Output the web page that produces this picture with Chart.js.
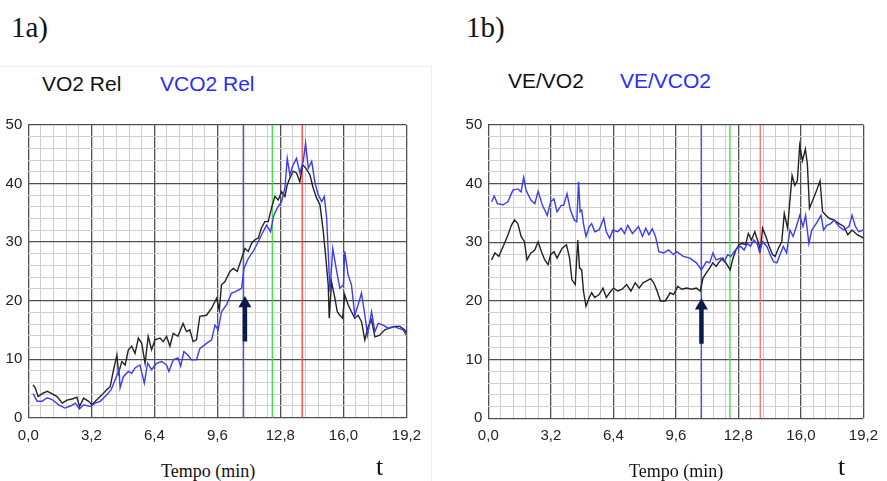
<!DOCTYPE html>
<html>
<head>
<meta charset="utf-8">
<script src="https://cdn.jsdelivr.net/npm/chart.js@4.4.1/dist/chart.umd.min.js"></script>
<style>
  body { margin: 0; background: #fff; width: 887px; height: 481px; position: relative; overflow: hidden; }
  .txt { position: absolute; white-space: nowrap; line-height: 1; }
  .serif { font-family: "Liberation Serif", "DejaVu Serif", serif; }
  .sans { font-family: "Liberation Sans", Arial, sans-serif; }
  canvas { position: absolute; }
  #panelA { position: absolute; left: -1px; top: 66px; width: 432px; height: 420px; border-top: 1px solid #eee; border-right: 1px solid #eee; }
</style>
</head>
<body>
<div id="panelA"></div>

<div class="txt serif" style="left:11px; top:12.7px; font-size:29px; color:#111;">1a)</div>
<div class="txt serif" style="left:466px; top:12.7px; font-size:29px; color:#111;">1b)</div>

<div class="txt sans" style="left:42px; top:73px; font-size:21px; color:#111;">VO2 Rel</div>
<div class="txt sans" style="left:160px; top:73px; font-size:21px; color:#2b2bff;">VCO2 Rel</div>
<div class="txt sans" style="left:508px; top:70px; font-size:21px; color:#111;">VE/VO2</div>
<div class="txt sans" style="left:620px; top:70px; font-size:21px; color:#2b2bff;">VE/VCO2</div>

<canvas id="chartA" width="430" height="345" style="left:0; top:110px;"></canvas>
<canvas id="chartB" width="447" height="345" style="left:440px; top:110px;"></canvas>

<div class="txt serif" style="left:161px; top:462px; font-size:18px; color:#111;">Tempo (min)</div>
<div class="txt serif" style="left:629px; top:462px; font-size:18px; color:#111;">Tempo (min)</div>
<div class="txt serif" style="left:376px; top:454px; font-size:26px; color:#111;">t</div>
<div class="txt serif" style="left:838px; top:454px; font-size:26px; color:#111;">t</div>

<script>
// ---- 1a) VO2 Rel / VCO2 Rel ----
const vo2Time = [0.24, 0.35, 0.5, 0.7, 0.96, 1.2, 1.46, 1.72, 1.97, 2.22, 2.47, 2.6, 2.81, 3.06, 3.23, 3.49, 3.74, 3.99, 4.16, 4.33,
  4.5, 4.58, 4.75, 4.92, 5.08, 5.25, 5.42, 5.59, 5.76, 5.93, 6.09, 6.26, 6.43, 6.69, 6.85, 7.02, 7.19, 7.36, 7.6, 7.86,
  8.03, 8.2, 8.37, 8.54, 8.71, 9.05, 9.31, 9.56, 9.7, 9.81, 9.98, 10.24, 10.41, 10.61, 10.83, 11.0, 11.17, 11.34, 11.51, 11.68,
  11.84, 12.01, 12.18, 12.35, 12.52, 12.69, 12.86, 13.03, 13.15, 13.28, 13.45, 13.62, 13.79, 13.93, 14.1, 14.3, 14.47, 14.64, 14.81, 14.98,
  15.11, 15.23, 15.28, 15.4, 15.57, 15.69, 15.82, 15.96, 16.07, 16.24, 16.41, 16.58, 16.75, 16.92, 17.09, 17.26, 17.43, 17.6, 17.85, 18.1,
  18.36, 18.61, 18.87, 19.12, 19.2];
const vo2Rel = [5.6, 5.1, 3.6, 4.1, 4.5, 4.1, 3.6, 2.5, 3.0, 3.2, 3.5, 1.9, 3.35, 2.8, 2.2, 3.1, 3.9, 4.8, 5.3, 8.2,
  10.7, 7.6, 9.6, 9.0, 11.6, 12.2, 11.0, 13.6, 12.7, 9.3, 13.9, 11.6, 13.3, 13.6, 13.0, 13.9, 12.2, 14.4, 13.9, 16.1,
  14.7, 15.0, 13.0, 13.3, 17.3, 17.5, 18.7, 20.4, 18.4, 22.7, 23.2, 25.0, 25.5, 25.0, 27.2, 28.9, 28.4, 29.8, 30.4, 30.7,
  32.4, 33.5, 33.5, 35.8, 37.8, 37.2, 38.6, 37.8, 39.8, 40.9, 42.1, 41.8, 40.3, 43.2, 42.6, 41.5, 39.2, 37.5, 36.4, 31.8,
  27.2, 22.7, 17.0, 23.2, 20.4, 18.1, 17.5, 17.0, 21.0, 19.3, 18.1, 17.0, 17.5, 16.4, 13.3, 15.6, 16.7, 13.8, 14.1, 15.0,
  15.3, 15.6, 15.6, 15.0, 14.5];

const vco2Time = [0.24, 0.45, 0.7, 0.96, 1.2, 1.55, 1.85, 2.14, 2.39, 2.6, 2.81, 3.15, 3.4, 3.65, 3.99, 4.21, 4.41, 4.61, 4.66, 4.83,
  5.08, 5.25, 5.42, 5.67, 5.89, 6.06, 6.26, 6.51, 6.77, 7.02, 7.14, 7.36, 7.6, 7.74, 7.9, 8.1, 8.28, 8.54, 8.71, 9.05,
  9.31, 9.48, 9.64, 9.81, 10.07, 10.32, 10.49, 10.66, 10.83, 10.95, 11.17, 11.42, 11.68, 11.93, 12.1, 12.3, 12.47, 12.64, 12.86, 13.03,
  13.15, 13.28, 13.45, 13.62, 13.79, 13.96, 14.08, 14.22, 14.39, 14.56, 14.72, 14.9, 15.03, 15.15, 15.32, 15.46, 15.66, 15.82, 16.0, 16.07,
  16.24, 16.41, 16.58, 16.75, 16.92, 17.09, 17.23, 17.43, 17.6, 17.77, 18.02, 18.27, 18.53, 18.78, 19.03, 19.2];
const vco2Rel = [4.1, 2.8, 2.8, 3.4, 3.1, 2.2, 1.65, 2.0, 2.5, 1.5, 2.2, 1.9, 2.5, 2.8, 3.9, 4.8, 6.5, 8.2, 5.1, 7.0,
  7.9, 7.6, 8.5, 9.0, 5.9, 9.3, 8.2, 9.3, 9.6, 9.0, 7.9, 9.9, 10.2, 8.8, 11.3, 10.7, 9.9, 9.9, 11.8, 12.7,
  13.3, 15.8, 15.0, 18.1, 19.3, 21.3, 21.5, 21.8, 22.1, 25.5, 27.2, 28.4, 30.1, 31.8, 32.9, 31.8, 34.6, 35.8, 36.9, 39.2,
  44.3, 41.5, 43.2, 44.3, 41.8, 43.8, 46.9, 42.6, 43.8, 40.1, 38.1, 36.9, 37.8, 34.1, 21.5, 28.9, 25.0, 22.1, 22.7, 28.4,
  24.4, 22.7, 17.5, 19.3, 21.3, 17.5, 14.1, 18.1, 14.7, 16.1, 15.8, 15.3, 15.6, 15.3, 15.0, 14.1];

// ---- 1b) VE/VO2 / VE/VCO2 ----
const veVo2Time = [0.17, 0.34, 0.54, 0.76, 1.01, 1.18, 1.34, 1.51, 1.68, 1.85, 1.98, 2.18, 2.38, 2.55, 2.72, 2.89, 3.06, 3.19, 3.36, 3.52,
  3.78, 4.0, 4.16, 4.28, 4.45, 4.58, 4.67, 4.78, 4.87, 5.0, 5.17, 5.29, 5.45, 5.67, 5.87, 6.04, 6.21, 6.41, 6.63, 6.85,
  7.08, 7.3, 7.52, 7.72, 7.92, 8.09, 8.31, 8.47, 8.64, 8.81, 9.06, 9.31, 9.48, 9.7, 9.9, 10.15, 10.4, 10.65, 10.85, 10.99,
  11.16, 11.33, 11.49, 11.66, 11.83, 12.0, 12.16, 12.38, 12.5, 12.67, 12.84, 13.0, 13.17, 13.31, 13.47, 13.64, 13.81, 13.93, 14.04, 14.21,
  14.38, 14.55, 14.68, 14.85, 15.02, 15.15, 15.32, 15.44, 15.55, 15.69, 15.82, 15.94, 16.08, 16.23, 16.33, 16.44, 16.61, 16.78, 16.98, 17.11,
  17.28, 17.45, 17.7, 17.95, 18.2, 18.4, 18.62, 18.88, 19.05, 19.2];
const veVo2 = [27.0, 28.2, 27.6, 29.3, 31.3, 32.9, 33.8, 33.2, 31.0, 30.1, 27.0, 28.2, 28.7, 30.1, 28.4, 27.0, 26.2, 27.9, 28.4, 27.3,
  29.0, 29.6, 27.3, 23.6, 22.8, 30.4, 25.6, 25.3, 21.7, 19.1, 20.6, 21.4, 20.6, 21.1, 22.2, 20.6, 21.4, 22.2, 21.7, 22.0,
  22.8, 21.7, 23.1, 22.2, 23.1, 23.4, 23.8, 23.1, 21.7, 20.0, 20.0, 21.4, 21.1, 22.5, 22.0, 22.2, 22.0, 22.2, 21.7, 23.9,
  24.8, 25.6, 26.5, 25.9, 26.7, 27.3, 26.5, 25.3, 27.0, 28.7, 29.6, 29.8, 29.6, 31.5, 30.4, 31.8, 30.1, 28.7, 32.4, 31.0,
  29.3, 27.9, 27.6, 29.0, 30.1, 34.9, 32.4, 37.2, 41.4, 39.7, 40.5, 46.5, 43.9, 45.9, 43.4, 35.8, 37.2, 38.6, 40.5, 35.2,
  34.6, 34.1, 33.8, 33.2, 32.7, 31.3, 32.1, 31.3, 31.0, 30.7];

const veVco2Time = [0.17, 0.3, 0.47, 0.76, 1.0, 1.26, 1.51, 1.68, 1.81, 1.93, 2.18, 2.38, 2.55, 2.77, 3.02, 3.19, 3.36, 3.52, 3.73, 3.86,
  4.03, 4.2, 4.4, 4.53, 4.62, 4.7, 4.78, 4.87, 5.0, 5.17, 5.29, 5.45, 5.67, 5.91, 6.04, 6.21, 6.38, 6.63, 6.8, 6.97,
  7.14, 7.38, 7.69, 7.89, 8.06, 8.22, 8.39, 8.56, 8.73, 8.98, 9.23, 9.48, 9.65, 9.98, 10.32, 10.65, 10.91, 11.16, 11.33, 11.5,
  11.66, 11.91, 12.08, 12.25, 12.42, 12.58, 12.75, 12.92, 13.09, 13.26, 13.42, 13.59, 13.76, 13.88, 14.04, 14.26, 14.43, 14.6, 14.77, 14.93,
  15.1, 15.27, 15.44, 15.6, 15.77, 15.94, 16.11, 16.24, 16.41, 16.56, 16.78, 17.03, 17.16, 17.33, 17.53, 17.7, 17.95, 18.2, 18.46, 18.62,
  18.79, 18.96, 19.2];
const veVco2 = [36.9, 37.9, 36.6, 36.4, 36.9, 38.9, 39.1, 38.6, 41.1, 38.9, 37.2, 36.6, 38.7, 36.3, 34.6, 36.9, 37.4, 35.2, 36.3, 36.3,
  38.3, 35.5, 33.8, 33.5, 40.3, 35.2, 35.5, 33.2, 31.0, 32.7, 33.2, 31.8, 32.1, 34.1, 31.8, 30.7, 32.1, 31.8, 32.4, 31.5,
  32.9, 31.5, 32.7, 31.0, 32.4, 31.3, 32.3, 31.0, 28.4, 28.2, 28.7, 27.9, 28.4, 27.6, 27.3, 26.5, 25.3, 26.7, 26.5, 28.2,
  27.0, 27.3, 26.7, 27.9, 27.6, 28.4, 29.0, 29.3, 28.7, 29.8, 29.3, 30.4, 29.8, 28.4, 30.1, 29.3, 27.9, 26.7, 26.5, 27.9,
  29.3, 28.2, 32.1, 31.0, 32.7, 34.6, 32.7, 34.6, 29.8, 32.1, 33.2, 34.6, 32.1, 32.9, 33.2, 33.8, 32.7, 32.1, 32.7, 34.6,
  32.7, 31.8, 32.1];

// vertical threshold markers (min) and arrows (min, from, shaft top, head centre)
const markerTimesA = [10.93, 12.39, 13.91];
const markerTimesB = [10.91, 12.37, 13.92];
const markerColorsA = ['#4c4cff', '#3cdc3c', '#ff3c3c'];
const markerColorsB = ['#4c4cff', '#3cdc3c', '#ff6a6a'];
const arrowA = { t: 11.0, from: 13.0, top: 19.0, head: 19.5 };
const arrowB = { t: 10.91, from: 12.7, top: 18.8, head: 19.2 };

const NAVY = '#0c1c48';
const MAJOR = '#505050';
const MINOR = '#cfcfcf';
const FONT = 'Liberation Sans, Arial, sans-serif';

function points(times, values) {
    return times.map((t, i) => ({ x: t, y: values[i] }));
}

function fmtTime(v) {
    return v.toFixed(1).replace('.', ',');
}

function buildChart(id, series, markerTimes, markerColors, arrow, pad) {
    const datasets = [];

    // arrow on top
    datasets.push({
        data: [{ x: arrow.t, y: arrow.head }],
        showLine: false,
        pointStyle: 'triangle',
        pointRadius: 7.5,
        backgroundColor: NAVY,
        borderWidth: 0
    });
    datasets.push({
        data: [{ x: arrow.t, y: arrow.from }, { x: arrow.t, y: arrow.top }],
        showLine: true,
        borderColor: NAVY,
        borderWidth: 4.5,
        borderCapStyle: 'butt',
        pointRadius: 0
    });

    series.forEach(s => {
        datasets.push({
            data: points(s.times, s.values),
            showLine: true,
            borderColor: s.color,
            borderWidth: 1.4,
            pointRadius: 0,
            tension: 0
        });
    });

    markerTimes.forEach((t, i) => {
        datasets.push({
            data: [{ x: t, y: 0 }, { x: t, y: 50 }],
            showLine: true,
            borderColor: markerColors[i],
            borderWidth: 1.3,
            pointRadius: 0
        });
    });

    new Chart(document.getElementById(id), {
        type: 'scatter',
        data: { datasets: datasets },
        options: {
            responsive: false,
            animation: false,
            devicePixelRatio: 1,
            layout: { padding: pad },
            plugins: {
                legend: { display: false },
                tooltip: { enabled: false }
            },
            scales: {
                x: {
                    type: 'linear',
                    min: 0,
                    max: 19.2,
                    afterFit: scale => { scale.height = 30; },
                    border: { display: false },
                    grid: {
                        drawTicks: false,
                        color: c => c.index % 5 === 0 ? MAJOR : MINOR,
                        lineWidth: c => c.index % 5 === 0 ? 1.3 : 1
                    },
                    ticks: {
                        stepSize: 0.64,
                        autoSkip: false,
                        maxRotation: 0,
                        padding: 9,
                        color: '#222',
                        font: { family: FONT, size: 15 },
                        callback: (v, i) => i % 5 === 0 ? fmtTime(v) : ''
                    }
                },
                y: {
                    min: 0,
                    max: 50,
                    afterFit: scale => { scale.width = 28.3; },
                    border: { display: false },
                    grid: {
                        drawTicks: false,
                        color: c => c.index % 5 === 0 ? MAJOR : MINOR,
                        lineWidth: c => c.index % 5 === 0 ? 1.3 : 1
                    },
                    ticks: {
                        stepSize: 2,
                        autoSkip: false,
                        padding: 6,
                        color: '#222',
                        font: { family: FONT, size: 15 },
                        callback: v => v % 10 === 0 ? String(v) : ''
                    }
                }
            }
        }
    });
}

buildChart('chartA', [
    { times: vco2Time, values: vco2Rel, color: '#3b3bf5' },
    { times: vo2Time, values: vo2Rel, color: '#222222' }
], markerTimesA, markerColorsA, arrowA, { left: 0, top: 15, right: 23.3, bottom: 7.3 });

buildChart('chartB', [
    { times: veVco2Time, values: veVco2, color: '#3b3bf5' },
    { times: veVo2Time, values: veVo2, color: '#222222' }
], markerTimesB, markerColorsB, arrowB, { left: 20, top: 12.3, right: 17.7, bottom: 6.7 });
</script>
</body>
</html>
